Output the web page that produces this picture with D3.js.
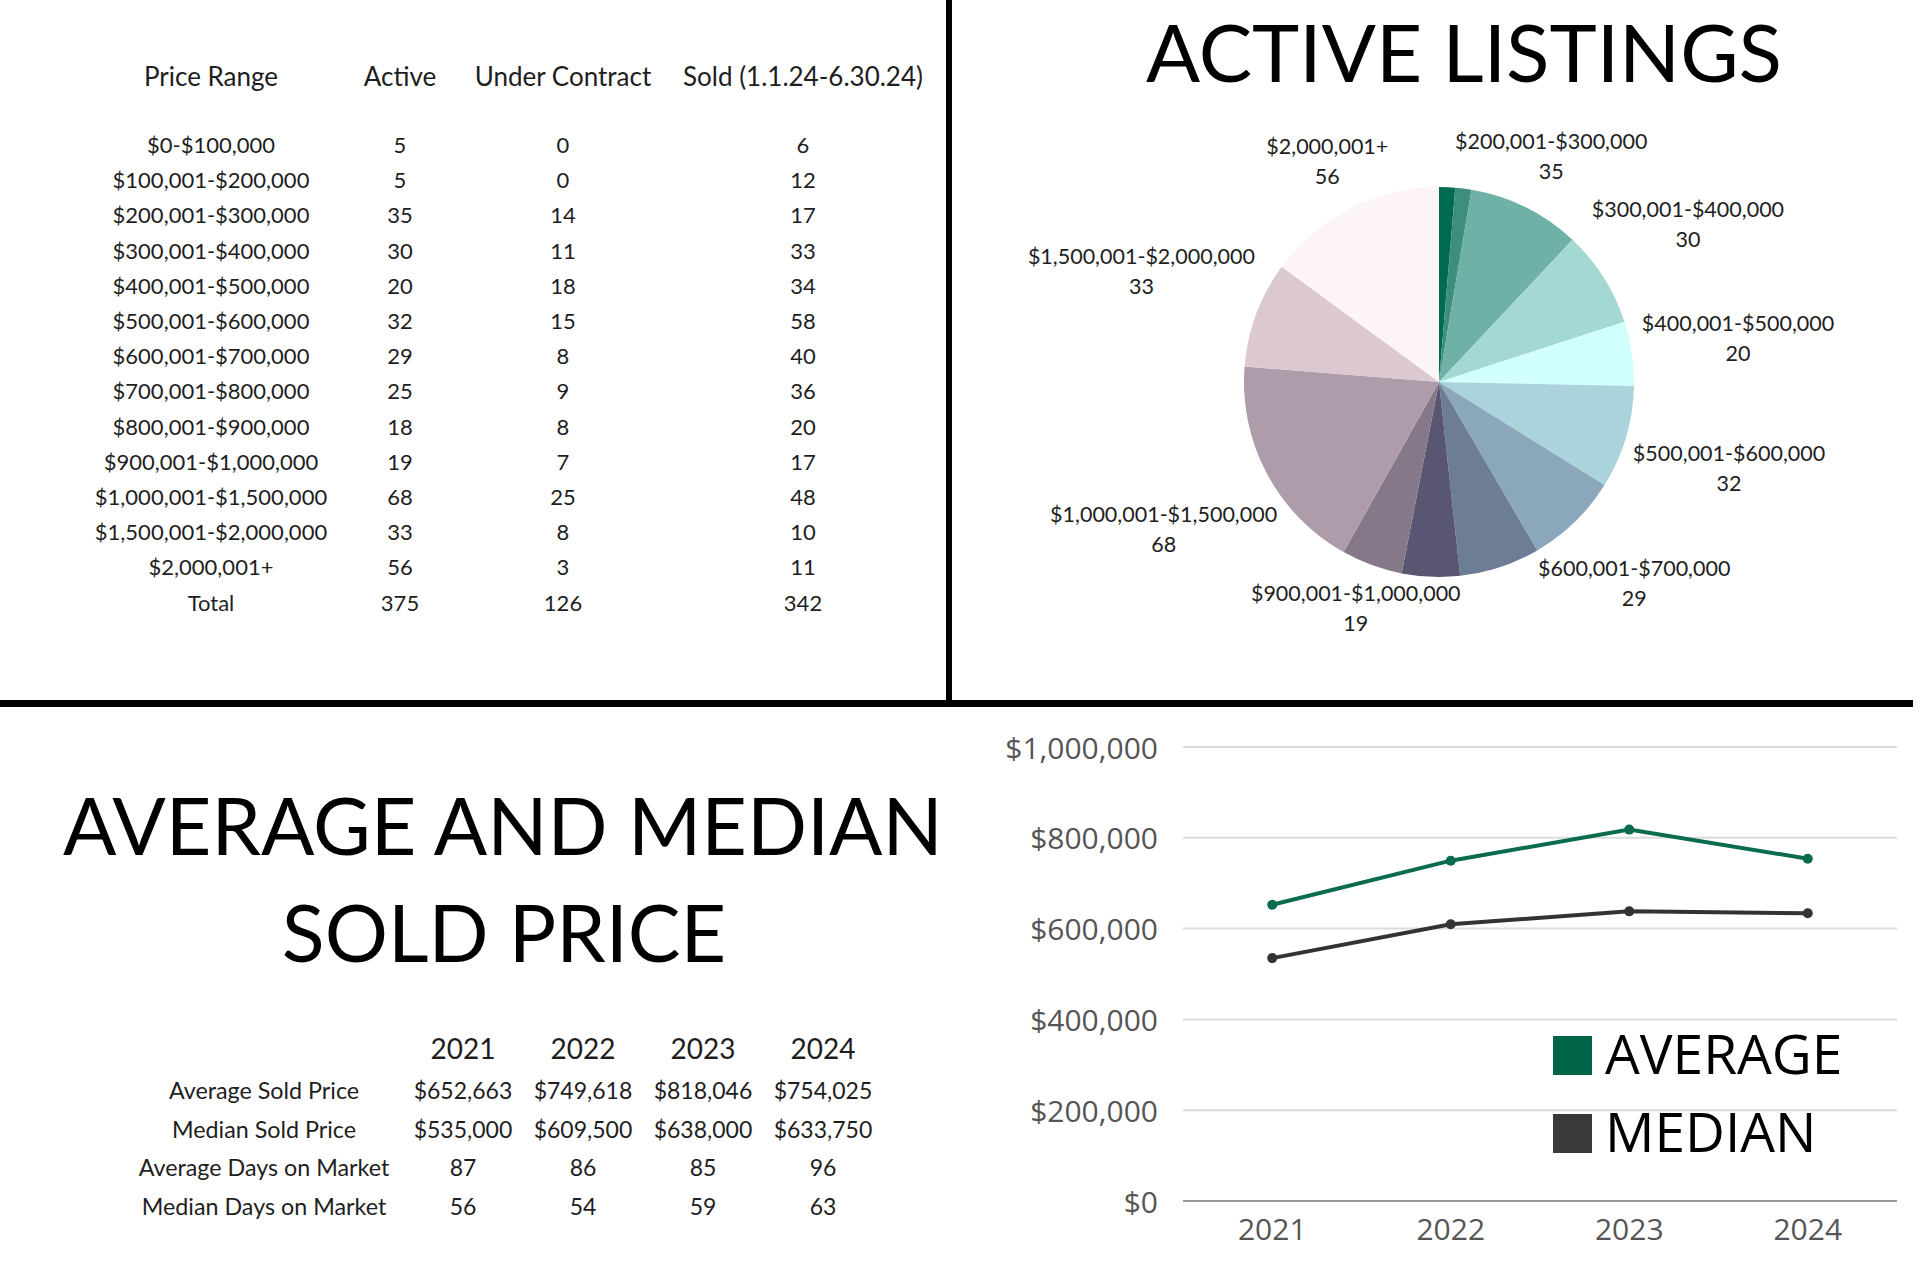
<!DOCTYPE html>
<html><head><meta charset="utf-8">
<script src="https://cdn.jsdelivr.net/npm/d3@7"></script>
<style>html,body{margin:0;padding:0;background:#fff;}svg{display:block;}</style>
</head><body>
<svg id="c" width="1920" height="1268"></svg>
<script>
// ---------- DATA ----------
const priceRanges = ["$0-$100,000","$100,001-$200,000","$200,001-$300,000","$300,001-$400,000","$400,001-$500,000","$500,001-$600,000","$600,001-$700,000","$700,001-$800,000","$800,001-$900,000","$900,001-$1,000,000","$1,000,001-$1,500,000","$1,500,001-$2,000,000","$2,000,001+"];
const activeCounts = [5,5,35,30,20,32,29,25,18,19,68,33,56];
const underContractCounts = [0,0,14,11,18,15,8,9,8,7,25,8,3];
const soldCounts = [6,12,17,33,34,58,40,36,20,17,48,10,11];
const totals = [375,126,342];
const tableHeaders = ["Price Range","Active","Under Contract","Sold (1.1.24-6.30.24)"];
const pieColors = ["#006b4f","#3d8f7c","#6fb1a6","#a4d8d3","#d1fffd","#aad3dc","#8aa7bb","#6d7d96","#585672","#857889","#ae9caa","#dbc8d0","#fdf5f5"];
const pieLabelShown = [false,false,true,true,true,true,true,false,false,true,true,true,true];

const years = ["2021","2022","2023","2024"];
const avgSoldPrice = [652663,749618,818046,754025];
const medianSoldPrice = [535000,609500,638000,633750];
const avgDaysOnMarket = [87,86,85,96];
const medianDaysOnMarket = [56,54,59,63];
const statRowLabels = ["Average Sold Price","Median Sold Price","Average Days on Market","Median Days on Market"];
const yTicks = [0,200000,400000,600000,800000,1000000];
const seriesNames = ["AVERAGE","MEDIAN"];
const seriesColors = ["#0b6b4f","#333333"];
const legendColors = ["#006548","#3a3a3a"];

// ---------- SETUP ----------
const svg = d3.select("#c");
const money = d3.format("$,");
const TXT = "#1e1e1e";

// dividers
svg.append("rect").attr("x",946).attr("y",0).attr("width",6).attr("height",703).attr("fill","#000");
svg.append("rect").attr("x",0).attr("y",700).attr("width",1913).attr("height",7).attr("fill","#000");

// ---------- TABLE 1 ----------
const t1 = svg.append("g").attr("font-family","Lato").attr("fill",TXT);
const colX = [211,400,563,803];
tableHeaders.forEach((h,i)=>{
  t1.append("text").attr("x",colX[i]).attr("y",76).attr("text-anchor","middle")
    .attr("dominant-baseline","central").attr("font-size",26).text(h);
});
const rowY = d3.scalePoint().domain(d3.range(priceRanges.length+1)).range([144.5,144.5+35.2*priceRanges.length]);
const rows = priceRanges.map((p,i)=>[p,activeCounts[i],underContractCounts[i],soldCounts[i]]);
rows.push(["Total",...totals]);
rows.forEach((r,ri)=>{
  r.forEach((v,ci)=>{
    t1.append("text").attr("x",colX[ci]).attr("y",rowY(ri)).attr("text-anchor","middle")
      .attr("dominant-baseline","central").attr("font-size",22).text(v);
  });
});

// ---------- PIE ----------
svg.append("text").attr("x",1464).attr("y",82).attr("text-anchor","middle")
  .attr("font-family","Lato").attr("font-size",80).attr("fill","#000").text("ACTIVE LISTINGS");
const cx=1439, cy=382, R=195;
const pieData = priceRanges.map((p,i)=>({name:p,value:activeCounts[i],color:pieColors[i],show:pieLabelShown[i]}));
const arcs = d3.pie().value(d=>d.value).sort(null)(pieData);
const arcGen = d3.arc().innerRadius(0).outerRadius(R);
const pg = svg.append("g").attr("transform",`translate(${cx},${cy})`);
pg.selectAll("path").data(arcs).join("path").attr("d",arcGen).attr("fill",d=>d.data.color);
const lg = pg.append("g").attr("font-family","Lato").attr("font-size",21.5).attr("fill",TXT);
const FS=21.5, LH=30, GAP=9;
arcs.filter(a=>a.data.show).forEach(a=>{
  const m=(a.startAngle+a.endAngle)/2;
  const t = lg.append("text").attr("text-anchor","middle");
  t.append("tspan").attr("x",0).attr("y",0).text(a.data.name);
  t.append("tspan").attr("x",0).attr("y",LH).text(a.data.value);
  const w = t.node().getBBox().width;
  const hw=w/2, hh=(LH+FS*0.72)/2; // cap-top of line1 to baseline of line2
  const sx=Math.sin(m), sy=-Math.cos(m);
  const near = d=>{const nx=Math.max(0,Math.abs(d*sx)-hw), ny=Math.max(0,Math.abs(d*sy)-hh); return Math.hypot(nx,ny);};
  let lo=0, hi=R*3;
  for(let k=0;k<60;k++){const md=(lo+hi)/2; if(near(md)<R+GAP) lo=md; else hi=md;}
  const px=lo*sx, py=lo*sy;
  // box center -> first baseline
  t.attr("transform",`translate(${px},${py-hh+FS*0.72})`);
});

// ---------- BOTTOM LEFT ----------
const bl = svg.append("g").attr("font-family","Lato").attr("fill","#000").attr("text-anchor","middle").attr("font-size",79);
bl.append("text").attr("x",503).attr("y",855).text("AVERAGE AND MEDIAN");
bl.append("text").attr("x",504).attr("y",962).text("SOLD PRICE");

const t2 = svg.append("g").attr("font-family","Lato").attr("fill",TXT).attr("text-anchor","middle");
const col2 = d3.scalePoint().domain(years).range([463,823]);
years.forEach(y=>t2.append("text").attr("x",col2(y)).attr("y",1048).attr("dominant-baseline","central").attr("font-size",28).text(y));
const statRows=[avgSoldPrice.map(money),medianSoldPrice.map(money),avgDaysOnMarket,medianDaysOnMarket];
const row2 = d3.scalePoint().domain(d3.range(4)).range([1090,1206]);
statRows.forEach((r,ri)=>{
  t2.append("text").attr("x",264).attr("y",row2(ri)).attr("dominant-baseline","central").attr("font-size",23.3).text(statRowLabels[ri]);
  r.forEach((v,ci)=>t2.append("text").attr("x",col2(years[ci])).attr("y",row2(ri)).attr("dominant-baseline","central").attr("font-size",23).text(v));
});

// ---------- LINE CHART ----------
const x = d3.scaleBand().domain(years).range([1183,1897]);
const y = d3.scaleLinear().domain([0,1000000]).range([1201,747]);
const lc = svg.append("g");
lc.selectAll("line.grid").data(yTicks).join("line").attr("class","grid")
  .attr("x1",1183).attr("x2",1897).attr("y1",d=>y(d)).attr("y2",d=>y(d))
  .attr("stroke",d=>d===0?"#999":"#dcdcdc").attr("stroke-width",2);
lc.selectAll("text.yt").data(yTicks).join("text").attr("class","yt")
  .attr("x",1158).attr("y",d=>y(d)).attr("text-anchor","end").attr("dominant-baseline","central")
  .attr("font-family","Open Sans").attr("font-size",30).attr("fill","#555").text(d=>money(d));
lc.selectAll("text.xt").data(years).join("text").attr("class","xt")
  .attr("x",d=>x(d)+x.bandwidth()/2).attr("y",1228).attr("text-anchor","middle").attr("dominant-baseline","central")
  .attr("font-family","Open Sans").attr("font-size",30).attr("fill","#555").text(d=>d);
const line = d3.line().x((d,i)=>x(years[i])+x.bandwidth()/2).y(d=>y(d));
[avgSoldPrice,medianSoldPrice].forEach((s,si)=>{
  lc.append("path").attr("d",line(s)).attr("fill","none").attr("stroke",seriesColors[si]).attr("stroke-width",4);
  lc.selectAll(null).data(s).join("circle").attr("cx",(d,i)=>x(years[i])+x.bandwidth()/2).attr("cy",d=>y(d)).attr("r",5).attr("fill",seriesColors[si]);
});
const leg = svg.append("g");
seriesNames.forEach((n,i)=>{
  leg.append("rect").attr("x",1553).attr("y",1036+i*78).attr("width",39).attr("height",39).attr("fill",legendColors[i]);
  leg.append("text").attr("x",1605).attr("y",1074+i*78).attr("font-family","Open Sans").attr("font-size",55).attr("fill","#000").text(n);
});
</script>
</body></html>
